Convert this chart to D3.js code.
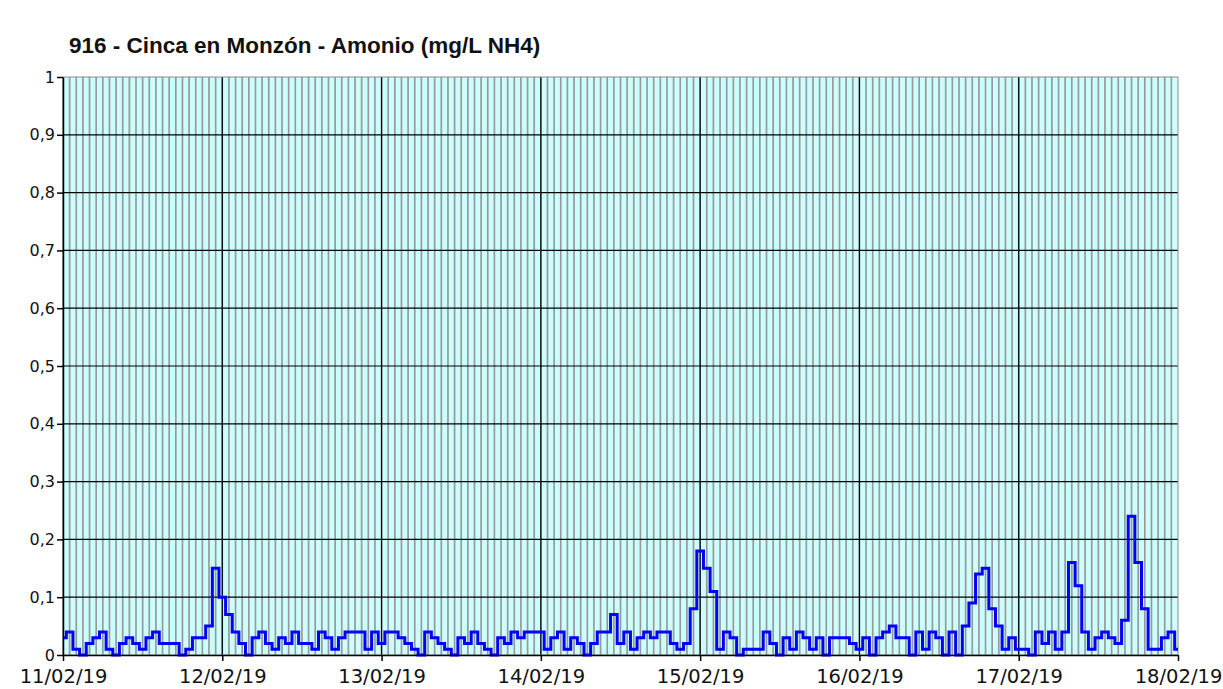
<!DOCTYPE html>
<html>
<head>
<meta charset="utf-8">
<script src="https://cdn.jsdelivr.net/npm/d3@7"></script>
<style>
  body { margin: 0; background: #fff; }
  svg { display: block; }
</style>
</head>
<body>
<svg id="chart" width="1223" height="689"></svg>
<script>
'use strict';

// hourly ammonium readings (mg/L NH4), one array per day, 00:00 .. 23:00
var day11 = [0.03, 0.04, 0.01, 0, 0.02, 0.03, 0.04, 0.01, 0, 0.02, 0.03, 0.02, 0.01, 0.03, 0.04, 0.02, 0.02, 0.02, 0, 0.01, 0.03, 0.03, 0.05, 0.15];
var day12 = [0.10, 0.07, 0.04, 0.02, 0, 0.03, 0.04, 0.02, 0.01, 0.03, 0.02, 0.04, 0.02, 0.02, 0.01, 0.04, 0.03, 0.01, 0.03, 0.04, 0.04, 0.04, 0.01, 0.04];
var day13 = [0.02, 0.04, 0.04, 0.03, 0.02, 0.01, 0, 0.04, 0.03, 0.02, 0.01, 0, 0.03, 0.02, 0.04, 0.02, 0.01, 0, 0.03, 0.02, 0.04, 0.03, 0.04, 0.04];
var day14 = [0.04, 0.01, 0.03, 0.04, 0.01, 0.03, 0.02, 0, 0.02, 0.04, 0.04, 0.07, 0.02, 0.04, 0.01, 0.03, 0.04, 0.03, 0.04, 0.04, 0.02, 0.01, 0.02, 0.08];
var day15 = [0.18, 0.15, 0.11, 0.01, 0.04, 0.03, 0, 0.01, 0.01, 0.01, 0.04, 0.02, 0, 0.03, 0.01, 0.04, 0.03, 0.01, 0.03, 0, 0.03, 0.03, 0.03, 0.02];
var day16 = [0.01, 0.03, 0, 0.03, 0.04, 0.05, 0.03, 0.03, 0, 0.04, 0.01, 0.04, 0.03, 0, 0.04, 0, 0.05, 0.09, 0.14, 0.15, 0.08, 0.05, 0.01, 0.03];
var day17 = [0.01, 0.01, 0, 0.04, 0.02, 0.04, 0.01, 0.04, 0.16, 0.12, 0.04, 0.01, 0.03, 0.04, 0.03, 0.02, 0.06, 0.24, 0.16, 0.08, 0.01, 0.01, 0.03, 0.04];
var day18 = [0.01];

var startDate = new Date(2019, 1, 11);
var endDate = new Date(2019, 1, 18);
var yTicks = [0, 0.1, 0.2, 0.3, 0.4, 0.5, 0.6, 0.7, 0.8, 0.9, 1];
var title = '916 - Cinca en Monzón - Amonio (mg/L NH4)';

var readings = [].concat(day11, day12, day13, day14, day15, day16, day17, day18)
  .map(function (v, i) {
    return { date: d3.timeHour.offset(startDate, i), value: v };
  });

var plot = { left: 63, right: 1178, top: 77, bottom: 655 };

var svg = d3.select('#chart');

var x = d3.scaleTime().domain([startDate, endDate]).range([plot.left, plot.right]);
var y = d3.scaleLinear().domain([0, 1]).range([plot.bottom, plot.top]);

var es = d3.formatLocale({ decimal: ',', thousands: '.', grouping: [3], currency: ['', ' €'] });
var fmtY = es.format('.1~f');

// title
svg.append('text')
  .attr('x', 69)
  .attr('y', 53)
  .attr('font-family', '"Liberation Sans", Arial, sans-serif')
  .attr('font-weight', 'bold')
  .attr('font-size', 22.5)
  .attr('fill', '#111')
  .text(title);

// plot background
svg.append('rect')
  .attr('x', plot.left)
  .attr('y', plot.top)
  .attr('width', plot.right - plot.left)
  .attr('height', plot.bottom - plot.top)
  .attr('fill', '#ccffff');

// hourly grid
svg.append('g')
  .attr('class', 'minor-grid')
  .selectAll('line')
  .data(d3.timeHour.range(startDate, endDate))
  .enter()
  .append('line')
  .attr('x1', function (d) { return x(d); })
  .attr('x2', function (d) { return x(d); })
  .attr('y1', plot.top)
  .attr('y2', plot.bottom)
  .attr('stroke', '#999')
  .attr('stroke-width', 1.7);

// horizontal grid
svg.append('g')
  .selectAll('line')
  .data(yTicks.slice(1, -1))
  .enter()
  .append('line')
  .attr('x1', plot.left)
  .attr('x2', plot.right)
  .attr('y1', function (d) { return y(d); })
  .attr('y2', function (d) { return y(d); })
  .attr('stroke', '#000')
  .attr('stroke-width', 1.2);

// day grid
svg.append('g')
  .selectAll('line')
  .data(d3.timeDay.range(d3.timeDay.offset(startDate, 1), endDate))
  .enter()
  .append('line')
  .attr('x1', function (d) { return x(d); })
  .attr('x2', function (d) { return x(d); })
  .attr('y1', plot.top)
  .attr('y2', plot.bottom)
  .attr('stroke', '#000')
  .attr('stroke-width', 1.2);

// plot frame
svg.append('rect')
  .attr('x', plot.left)
  .attr('y', plot.top)
  .attr('width', plot.right - plot.left)
  .attr('height', plot.bottom - plot.top)
  .attr('fill', 'none')
  .attr('stroke', '#8c8c8c')
  .attr('stroke-width', 1);

// series
var line = d3.line()
  .x(function (d) { return x(d.date); })
  .y(function (d) { return y(d.value); })
  .curve(d3.curveStep);

svg.append('path')
  .datum(readings)
  .attr('d', line)
  .attr('fill', 'none')
  .attr('stroke', '#0000ff')
  .attr('stroke-width', 3)
  .attr('stroke-linejoin', 'miter');

// axes
var xAxis = d3.axisBottom(x)
  .ticks(d3.timeDay.every(1))
  .tickFormat(d3.timeFormat('%d/%m/%y'))
  .tickSize(6)
  .tickSizeOuter(0);

var yAxis = d3.axisLeft(y)
  .tickValues(yTicks)
  .tickFormat(fmtY)
  .tickSize(6)
  .tickSizeOuter(0);

var gx = svg.append('g')
  .attr('transform', 'translate(0,' + plot.bottom + ')')
  .call(xAxis);

gx.selectAll('text')
  .attr('font-family', '"DejaVu Sans", Verdana, sans-serif')
  .attr('font-size', 19.5)
  .attr('fill', '#111')
  .attr('dy', '0.95em');

var gy = svg.append('g')
  .attr('transform', 'translate(' + plot.left + ',0)')
  .call(yAxis);

gy.selectAll('text')
  .attr('font-family', '"DejaVu Sans", Verdana, sans-serif')
  .attr('font-size', 16)
  .attr('fill', '#111')
  .attr('x', -8);

svg.selectAll('.domain, .tick line')
  .attr('stroke', '#000')
  .attr('stroke-width', 1.5);
</script>
</body>
</html>
